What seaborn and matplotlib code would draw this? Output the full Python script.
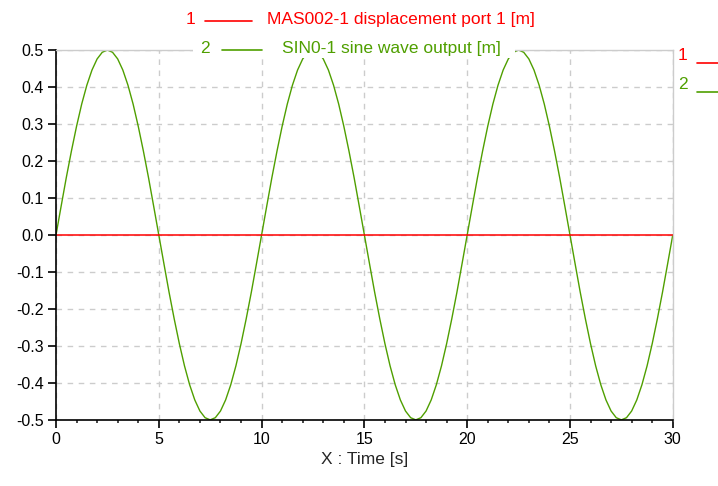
import numpy as np
import pandas as pd
import seaborn as sns
import matplotlib
matplotlib.use("Agg")
import matplotlib.pyplot as plt
from matplotlib.ticker import MultipleLocator

# time axis, 0.25 s steps from 0 to 30 s
time_s = [i * 0.25 for i in range(121)]

# SIN0-1 sine wave output [m]
sine_out = [
    0.0, 0.078, 0.155, 0.227, 0.294, 0.354, 0.405, 0.446, 0.476, 0.494,
    0.5, 0.494, 0.476, 0.446, 0.405, 0.354, 0.294, 0.227, 0.155, 0.078,
    0.0, -0.078, -0.155, -0.227, -0.294, -0.354, -0.405, -0.446, -0.476, -0.494,
    -0.5, -0.494, -0.476, -0.446, -0.405, -0.354, -0.294, -0.227, -0.155, -0.078,
    0.0, 0.078, 0.155, 0.227, 0.294, 0.354, 0.405, 0.446, 0.476, 0.494,
    0.5, 0.494, 0.476, 0.446, 0.405, 0.354, 0.294, 0.227, 0.155, 0.078,
    0.0, -0.078, -0.155, -0.227, -0.294, -0.354, -0.405, -0.446, -0.476, -0.494,
    -0.5, -0.494, -0.476, -0.446, -0.405, -0.354, -0.294, -0.227, -0.155, -0.078,
    0.0, 0.078, 0.155, 0.227, 0.294, 0.354, 0.405, 0.446, 0.476, 0.494,
    0.5, 0.494, 0.476, 0.446, 0.405, 0.354, 0.294, 0.227, 0.155, 0.078,
    0.0, -0.078, -0.155, -0.227, -0.294, -0.354, -0.405, -0.446, -0.476, -0.494,
    -0.5, -0.494, -0.476, -0.446, -0.405, -0.354, -0.294, -0.227, -0.155, -0.078,
    0.0,
]

# MAS002-1 displacement port 1 [m]
mass_disp = [0.0] * len(time_s)

y_ticks = [-0.5, -0.4, -0.3, -0.2, -0.1, 0.0, 0.1, 0.2, 0.3, 0.4, 0.5]
y_labels = ["-0.5", "-0.4", "-0.3", "-0.2", "-0.1", "0.0", "0.1", "0.2", "0.3", "0.4", "0.5"]

df = pd.DataFrame({"t": time_s, "sine": sine_out, "disp": mass_disp})

red = "#ff0000"
green = "#4f9f00"

sns.set_style("white")
plt.rcParams["font.family"] = ["Liberation Sans", "DejaVu Sans"]

fig = plt.figure(figsize=(7.18, 4.86), dpi=100)
ax = fig.add_axes([0.078, 0.136, 0.859, 0.761])

ax.grid(True, color="#cccccc", linestyle=(0, (4, 4)), linewidth=1)
sns.lineplot(data=df, x="t", y="sine", color=green, linewidth=1.0, ax=ax)
sns.lineplot(data=df, x="t", y="disp", color=red, linewidth=1.1, ax=ax)

ax.set_xlim(0, 30)
ax.set_ylim(-0.5, 0.5)
ax.xaxis.set_major_locator(MultipleLocator(5))
ax.xaxis.set_minor_locator(MultipleLocator(1))
ax.set_yticks(y_ticks)
ax.set_yticklabels(y_labels)
ax.tick_params(axis="both", which="major", direction="out", length=6, width=1.2,
               labelsize=11.5, colors="black", left=True, bottom=True, pad=3)
ax.tick_params(axis="x", which="minor", direction="out", length=2.5, width=1.2, bottom=True)

for side in ["left", "bottom"]:
    ax.spines[side].set_color("black")
    ax.spines[side].set_linewidth(1.2)
for side in ["top", "right"]:
    ax.spines[side].set_color("#cccccc")
    ax.spines[side].set_linewidth(1)

ax.set_xlabel("X : Time [s]", fontsize=12.5, labelpad=3)
ax.set_ylabel("")

# legend entries at the top
fig.text(0.265, 0.960, "1", color=red, fontsize=12.5, ha="center", va="center")
fig.add_artist(plt.Line2D([0.2855, 0.351], [0.957, 0.957], color=red, linewidth=1.2))
fig.text(0.372, 0.960, "MAS002-1 displacement port 1 [m]", color=red, fontsize=12.5,
         ha="left", va="center")

bg = plt.Rectangle((0.269, 0.881), 0.448, 0.041, transform=fig.transFigure,
                   facecolor="white", edgecolor="none", zorder=3)
fig.add_artist(bg)
fig.text(0.2855, 0.901, "2", color=green, fontsize=12.5, ha="center", va="center", zorder=4)
fig.add_artist(plt.Line2D([0.309, 0.365], [0.898, 0.898], color=green, linewidth=1.2, zorder=4))
fig.text(0.393, 0.901, "SIN0-1 sine wave output [m]", color=green, fontsize=12.5,
         ha="left", va="center", zorder=4)

# right-hand legend, cut off by the figure edge
fig.text(0.944, 0.886, "1", color=red, fontsize=12.5, ha="left", va="center")
fig.add_artist(plt.Line2D([0.971, 1.02], [0.870, 0.870], color=red, linewidth=1.2))
fig.text(0.944, 0.826, "2", color=green, fontsize=12.5, ha="left", va="center")
fig.add_artist(plt.Line2D([0.971, 1.02], [0.811, 0.811], color=green, linewidth=1.2))

fig.savefig("out.png", dpi=100)
